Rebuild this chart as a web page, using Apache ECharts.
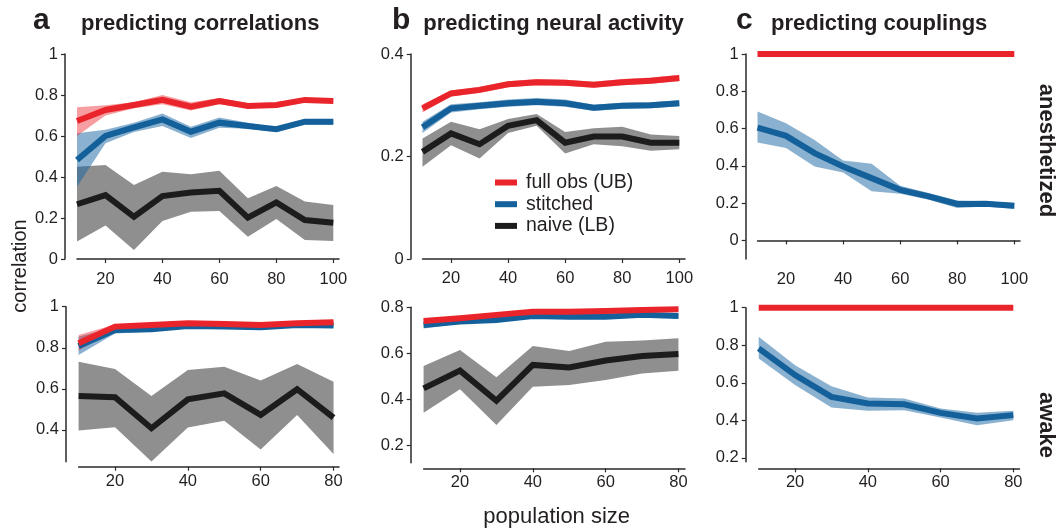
<!DOCTYPE html>
<html>
<head>
<meta charset="utf-8">
<script src="https://cdn.jsdelivr.net/npm/echarts@6/dist/echarts.min.js"></script>
<style>html,body{margin:0;padding:0;background:#fff}#c{width:1060px;height:529px}</style>
</head>
<body>
<div id="c"></div>
<script>
// ---------- data ----------
const xAnes = [10, 20, 30, 40, 50, 60, 70, 80, 90, 100];
const xAwake = [10, 20, 30, 40, 50, 60, 70, 80];
const xTicksAnes = [20, 40, 60, 80, 100];
const xTicksAwake = [20, 40, 60, 80];

// a: predicting correlations, anesthetized
const aAnesFull   = [0.673, 0.727, 0.751, 0.776, 0.743, 0.771, 0.746, 0.751, 0.776, 0.771];
const aAnesFullLo = [0.600, 0.700, 0.735, 0.755, 0.725, 0.755, 0.735, 0.740, 0.765, 0.760];
const aAnesFullHi = [0.740, 0.750, 0.765, 0.800, 0.765, 0.785, 0.760, 0.760, 0.785, 0.780];
const aAnesStit   = [0.483, 0.600, 0.642, 0.681, 0.621, 0.665, 0.649, 0.633, 0.670, 0.670];
const aAnesStitLo = [0.353, 0.565, 0.620, 0.649, 0.590, 0.640, 0.635, 0.620, 0.655, 0.655];
const aAnesStitHi = [0.613, 0.630, 0.665, 0.710, 0.645, 0.690, 0.665, 0.640, 0.680, 0.680];
const aAnesNaive   = [0.267, 0.312, 0.206, 0.307, 0.324, 0.333, 0.202, 0.276, 0.190, 0.177];
const aAnesNaiveLo = [0.085, 0.163, 0.044, 0.185, 0.231, 0.234, 0.109, 0.195, 0.093, 0.088];
const aAnesNaiveHi = [0.450, 0.459, 0.361, 0.426, 0.413, 0.431, 0.296, 0.356, 0.280, 0.263];

// a: predicting correlations, awake
const aAwakeFull   = [0.822, 0.903, 0.911, 0.919, 0.916, 0.911, 0.919, 0.924];
const aAwakeFullLo = [0.785, 0.893, 0.903, 0.911, 0.908, 0.903, 0.911, 0.916];
const aAwakeFullHi = [0.862, 0.913, 0.919, 0.927, 0.924, 0.919, 0.927, 0.932];
const aAwakeStit   = [0.809, 0.886, 0.890, 0.906, 0.903, 0.900, 0.911, 0.908];
const aAwakeStitLo = [0.765, 0.870, 0.878, 0.896, 0.893, 0.888, 0.901, 0.898];
const aAwakeStitHi = [0.854, 0.900, 0.902, 0.916, 0.913, 0.910, 0.921, 0.918];
const aAwakeNaive   = [0.565, 0.559, 0.408, 0.549, 0.578, 0.473, 0.598, 0.460];
const aAwakeNaiveLo = [0.397, 0.413, 0.246, 0.412, 0.445, 0.305, 0.473, 0.283];
const aAwakeNaiveHi = [0.732, 0.697, 0.565, 0.692, 0.708, 0.640, 0.721, 0.635];

// b: predicting neural activity, anesthetized
const bAnesFull   = [0.294, 0.323, 0.330, 0.341, 0.345, 0.344, 0.340, 0.345, 0.348, 0.353];
const bAnesFullLo = [0.286, 0.317, 0.324, 0.335, 0.339, 0.338, 0.334, 0.339, 0.342, 0.347];
const bAnesFullHi = [0.302, 0.329, 0.336, 0.347, 0.351, 0.350, 0.346, 0.351, 0.354, 0.359];
const bAnesStit   = [0.257, 0.294, 0.299, 0.304, 0.307, 0.304, 0.295, 0.299, 0.300, 0.304];
const bAnesStitLo = [0.246, 0.286, 0.292, 0.297, 0.300, 0.297, 0.289, 0.293, 0.294, 0.298];
const bAnesStitHi = [0.268, 0.302, 0.306, 0.311, 0.314, 0.311, 0.301, 0.305, 0.306, 0.310];
const bAnesNaive   = [0.209, 0.245, 0.224, 0.260, 0.271, 0.227, 0.239, 0.239, 0.227, 0.227];
const bAnesNaiveLo = [0.180, 0.222, 0.196, 0.246, 0.260, 0.206, 0.224, 0.220, 0.211, 0.214];
const bAnesNaiveHi = [0.235, 0.268, 0.253, 0.273, 0.283, 0.248, 0.255, 0.258, 0.243, 0.240];

// b: predicting neural activity, awake
const bAwakeFull   = [0.740, 0.752, 0.767, 0.781, 0.781, 0.784, 0.788, 0.791];
const bAwakeFullLo = [0.731, 0.744, 0.759, 0.773, 0.773, 0.776, 0.780, 0.783];
const bAwakeFullHi = [0.749, 0.760, 0.775, 0.789, 0.789, 0.792, 0.796, 0.799];
const bAwakeStit   = [0.723, 0.738, 0.745, 0.762, 0.759, 0.759, 0.767, 0.762];
const bAwakeStitLo = [0.708, 0.728, 0.735, 0.752, 0.749, 0.749, 0.757, 0.752];
const bAwakeStitHi = [0.738, 0.748, 0.755, 0.772, 0.769, 0.769, 0.777, 0.772];
const bAwakeNaive   = [0.447, 0.524, 0.393, 0.549, 0.538, 0.568, 0.588, 0.597];
const bAwakeNaiveLo = [0.341, 0.443, 0.287, 0.454, 0.461, 0.483, 0.512, 0.524];
const bAwakeNaiveHi = [0.544, 0.614, 0.495, 0.631, 0.610, 0.650, 0.655, 0.665];

// c: predicting couplings
const cAnesFull   = [1, 1, 1, 1, 1, 1, 1, 1, 1, 1];
const cAnesStit   = [0.605, 0.561, 0.468, 0.396, 0.334, 0.271, 0.236, 0.195, 0.196, 0.186];
const cAnesStitLo = [0.525, 0.495, 0.396, 0.364, 0.263, 0.250, 0.218, 0.173, 0.182, 0.168];
const cAnesStitHi = [0.691, 0.629, 0.539, 0.429, 0.411, 0.293, 0.254, 0.214, 0.209, 0.200];
const cAwakeFull   = [1, 1, 1, 1, 1, 1, 1, 1];
const cAwakeStit   = [0.783, 0.641, 0.525, 0.490, 0.486, 0.440, 0.410, 0.428];
const cAwakeStitLo = [0.730, 0.588, 0.468, 0.451, 0.454, 0.415, 0.374, 0.401];
const cAwakeStitHi = [0.845, 0.694, 0.582, 0.522, 0.516, 0.463, 0.440, 0.451];

const yTicksA1 = [0, 0.2, 0.4, 0.6, 0.8, 1];
const yTicksA2 = [0.4, 0.6, 0.8, 1];
const yTicksB1 = [0, 0.2, 0.4];
const yTicksB2 = [0.2, 0.4, 0.6, 0.8];
const yTicksC1 = [0, 0.2, 0.4, 0.6, 0.8, 1];
const yTicksC2 = [0.2, 0.4, 0.6, 0.8, 1];

const NAME_FULL = 'full obs (UB)', NAME_STIT = 'stitched', NAME_NAIVE = 'naive (LB)';
const RED = '#e9252b', BLUE = '#14609a', BLACK = '#1c1c1c';
const RED_BAND = 'rgba(236,40,46,0.45)', BLUE_BAND = 'rgba(22,100,160,0.5)', GRAY_BAND = 'rgba(40,40,40,0.52)';
const FONT = 'Liberation Sans, Arial, Helvetica, sans-serif';
const TXT = '#231f20';

// ---------- layout ----------
const panels = [
  {left: 77,    top: 54,    width: 262,   height: 205,   xmin: 10, xmax: 102,  ymin: 0,     ymax: 1,   yOff: 12,   xOff: 6,   xt: xTicksAnes,  yt: yTicksA1},
  {left: 78.6,  top: 306.7, width: 260.4, height: 155,   xmin: 10, xmax: 81.5, ymin: 0.245, ymax: 1,   yOff: 12.6, xOff: 5,   xt: xTicksAwake, yt: yTicksA2},
  {left: 422.5, top: 54,    width: 262.5, height: 205,   xmin: 10, xmax: 102,  ymin: 0,     ymax: 0.4, yOff: 11.8, xOff: 5,   xt: xTicksAnes,  yt: yTicksB1},
  {left: 423.6, top: 307.3, width: 261.4, height: 155.4, xmin: 10, xmax: 81.8, ymin: 0.123, ymax: 0.8, yOff: 12.9, xOff: 5.6, xt: xTicksAwake, yt: yTicksB2},
  {left: 757.5, top: 54,    width: 262.5, height: 205,   xmin: 10, xmax: 102,  ymin: -0.1,  ymax: 1,   yOff: 11.8, xOff: 6,   xt: xTicksAnes,  yt: yTicksC1},
  {left: 758.7, top: 307.7, width: 260.8, height: 154,   xmin: 10, xmax: 81.7, ymin: 0.18,  ymax: 1,   yOff: 13,   xOff: 6.6, xt: xTicksAwake, yt: yTicksC2}
];

const grids = [], xAxes = [], yAxes = [];
const axisLine = {show: true, lineStyle: {color: '#2a2a2a', width: 1.5}};
panels.forEach((p, i) => {
  grids.push({left: p.left, top: p.top, width: p.width, height: p.height, containLabel: false, outerBoundsMode: 'none'});
  xAxes.push({
    type: 'value', gridIndex: i, min: p.xmin, max: p.xmax, offset: p.xOff,
    splitLine: {show: false}, axisLine: axisLine,
    axisTick: {show: true, length: 4, lineStyle: {color: '#2a2a2a', width: 1.2}, customValues: p.xt},
    axisLabel: {customValues: p.xt, margin: 6, color: TXT, fontSize: 16.5, fontFamily: FONT}
  });
  yAxes.push({
    type: 'value', gridIndex: i, min: p.ymin, max: p.ymax, offset: p.yOff,
    splitLine: {show: false}, axisLine: axisLine,
    axisTick: {show: true, length: 4, lineStyle: {color: '#2a2a2a', width: 1.2}, customValues: p.yt},
    axisLabel: {customValues: p.yt, margin: 7, color: TXT, fontSize: 16.5, fontFamily: FONT}
  });
});

const series = [];
function pairs(xs, ys) { return xs.map((x, k) => [x, ys[k]]); }
// confidence band: one polygon built through the axis scales (api.coord)
function band(gi, xs, lo, hi, color, key) {
  const pts = xs.map((x, k) => [x, lo[k], hi[k]]);
  series.push({
    type: 'custom', name: 'band-' + key, xAxisIndex: gi, yAxisIndex: gi,
    data: pts, encode: {x: 0, y: [1, 2]}, silent: true, z: 1,
    renderItem: function (params, api) {
      if (params.dataIndex !== 0) return;
      const upper = pts.map(p => api.coord([p[0], p[2]]));
      const lower = pts.map(p => api.coord([p[0], p[1]])).reverse();
      return {type: 'polygon', shape: {points: upper.concat(lower)}, style: {fill: color}};
    }
  });
}
function line(gi, xs, ys, name, color) {
  series.push({
    type: 'line', name: name, xAxisIndex: gi, yAxisIndex: gi, data: pairs(xs, ys),
    symbol: 'none', color: color, itemStyle: {color: color},
    lineStyle: {color: color, width: 6, cap: 'butt', join: 'miter'}, z: 3, clip: false
  });
}

// panel a anesthetized
band(0, xAnes, aAnesNaiveLo, aAnesNaiveHi, GRAY_BAND, 'a1n');
band(0, xAnes, aAnesStitLo, aAnesStitHi, BLUE_BAND, 'a1s');
band(0, xAnes, aAnesFullLo, aAnesFullHi, RED_BAND, 'a1f');
line(0, xAnes, aAnesNaive, NAME_NAIVE, BLACK);
line(0, xAnes, aAnesStit, NAME_STIT, BLUE);
line(0, xAnes, aAnesFull, NAME_FULL, RED);
// panel a awake
band(1, xAwake, aAwakeNaiveLo, aAwakeNaiveHi, GRAY_BAND, 'a2n');
band(1, xAwake, aAwakeStitLo, aAwakeStitHi, BLUE_BAND, 'a2s');
band(1, xAwake, aAwakeFullLo, aAwakeFullHi, RED_BAND, 'a2f');
line(1, xAwake, aAwakeNaive, NAME_NAIVE, BLACK);
line(1, xAwake, aAwakeStit, NAME_STIT, BLUE);
line(1, xAwake, aAwakeFull, NAME_FULL, RED);
// panel b anesthetized
band(2, xAnes, bAnesNaiveLo, bAnesNaiveHi, GRAY_BAND, 'b1n');
band(2, xAnes, bAnesStitLo, bAnesStitHi, BLUE_BAND, 'b1s');
band(2, xAnes, bAnesFullLo, bAnesFullHi, RED_BAND, 'b1f');
line(2, xAnes, bAnesNaive, NAME_NAIVE, BLACK);
line(2, xAnes, bAnesStit, NAME_STIT, BLUE);
line(2, xAnes, bAnesFull, NAME_FULL, RED);
// panel b awake
band(3, xAwake, bAwakeNaiveLo, bAwakeNaiveHi, GRAY_BAND, 'b2n');
band(3, xAwake, bAwakeStitLo, bAwakeStitHi, BLUE_BAND, 'b2s');
band(3, xAwake, bAwakeFullLo, bAwakeFullHi, RED_BAND, 'b2f');
line(3, xAwake, bAwakeNaive, NAME_NAIVE, BLACK);
line(3, xAwake, bAwakeStit, NAME_STIT, BLUE);
line(3, xAwake, bAwakeFull, NAME_FULL, RED);
// panel c anesthetized
band(4, xAnes, cAnesStitLo, cAnesStitHi, BLUE_BAND, 'c1s');
line(4, xAnes, cAnesStit, NAME_STIT, BLUE);
line(4, xAnes, cAnesFull, NAME_FULL, RED);
// panel c awake
band(5, xAwake, cAwakeStitLo, cAwakeStitHi, BLUE_BAND, 'c2s');
line(5, xAwake, cAwakeStit, NAME_STIT, BLUE);
line(5, xAwake, cAwakeFull, NAME_FULL, RED);

function txt(x, y, text, size, weight, align, rot) {
  return {
    type: 'text', x: x, y: y, rotation: rot || 0, silent: true,
    style: {text: text, fill: TXT, font: weight + ' ' + size + 'px ' + FONT, align: align || 'left', verticalAlign: 'middle'}
  };
}

const option = {
  animation: false,
  backgroundColor: '#ffffff',
  grid: grids, xAxis: xAxes, yAxis: yAxes, series: series,
  legend: {
    data: [NAME_FULL, NAME_STIT, NAME_NAIVE],
    orient: 'vertical', left: 495, top: 172.5, padding: 0, itemGap: 1.7,
    itemWidth: 22, itemHeight: 6, icon: 'rect', selectedMode: false,
    textStyle: {fontSize: 19.5, fontFamily: FONT, color: TXT, lineHeight: 20, padding: [0, 0, 0, 4]}
  },
  graphic: [
    txt(33, 20.6, 'a', 30, 'bold'),
    txt(81, 23.8, 'predicting correlations', 22, 'bold'),
    txt(392, 20.6, 'b', 30, 'bold'),
    txt(423.3, 23.8, 'predicting neural activity', 22, 'bold'),
    txt(736, 20.6, 'c', 30, 'bold'),
    txt(771, 23.8, 'predicting couplings', 22, 'bold'),
    txt(20, 266, 'correlation', 20, 'normal', 'center', Math.PI / 2),
    txt(556.7, 516.7, 'population size', 22, 'normal', 'center'),
    txt(1046, 150.5, 'anesthetized', 22, 'bold', 'center', -Math.PI / 2),
    txt(1046, 425, 'awake', 22, 'bold', 'center', -Math.PI / 2)
  ]
};

const chart = echarts.init(document.getElementById('c'), null, {renderer: 'canvas'});
chart.setOption(option);
</script>
</body>
</html>
